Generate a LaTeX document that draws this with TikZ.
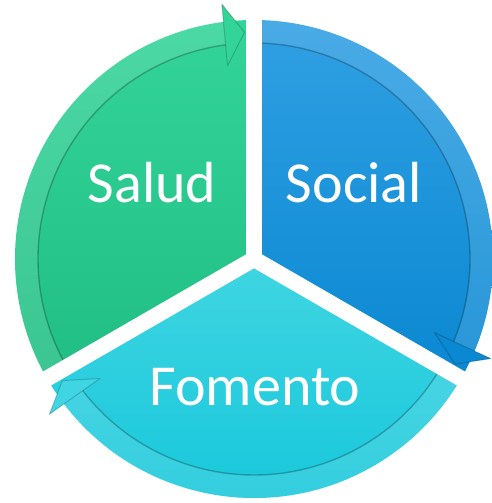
\documentclass[tikz,border=0pt]{standalone}
\usepackage{fontspec}
\setmainfont{Carlito}
\usetikzlibrary{calc}
\definecolor{saludtop}{HTML}{33D49A}
\definecolor{saludbot}{HTML}{20BE84}
\definecolor{socialtop}{HTML}{30A0E3}
\definecolor{socialbot}{HTML}{0A88D2}
\definecolor{fomtop}{HTML}{40D5E2}
\definecolor{fombot}{HTML}{12C6DA}

\begin{document}
\begin{tikzpicture}[
    x=1pt, y=1pt,
    % Styles
    band/.style={fill=white, fill opacity=0.12},
    rim/.style={draw=black, draw opacity=0.25, line width=1.4pt},
    gap/.style={draw=white, line width=16pt},
    tip/.style={fill=#1, draw=black, draw opacity=0.18, line width=1pt, line join=round},
    lbl/.style={text=white, font=\fontsize{58}{62}\selectfont, anchor=base},
  ]

  \useasboundingbox (-254,-244) rectangle (237,259);
  \coordinate (C) at (0,0);

  % 1) Sectors with their outer band (arrow runs clockwise, ends at \s)
  \foreach \s/\e/\ct/\cb in {90/210/saludtop/saludbot,
                             -30/90/socialtop/socialbot,
                             210/330/fomtop/fombot}{
    \shade[top color=\ct, bottom color=\cb]
      (C) -- (\s:239) arc[start angle=\s, end angle=\e, radius=239pt] -- cycle;
    \fill[band] (\e:239) arc[start angle=\e, end angle=\s+7, radius=239pt]
      -- (\s+7:216) arc[start angle=\s+7, end angle=\e, radius=216pt] -- cycle;
    \draw[rim] (\e:216) arc[start angle=\e, end angle=\s+7, radius=216pt];
  }

  % 2) Gaps between the sectors
  \draw[gap] (C) -- (90:262);
  \draw[gap] (C) -- (210:262);
  \draw[gap] (C) -- (330:262);

  % 3) Arrow heads
  \foreach \s/\tc in {90/saludtop, -30/socialbot, 210/fomtop}{
    \draw[tip=\tc] (\s+2.4:227) -- (\s+7.2:257) -- (\s+7.8:195) -- cycle;
  }

  % 4) Labels
  \node[lbl] (salud)   at (-102,56)  {Salud};
  \node[lbl] (social)  at (100,56)   {Social};
  \node[lbl] (fomento) at (1,-146)   {Fomento};
\end{tikzpicture}
\end{document}
